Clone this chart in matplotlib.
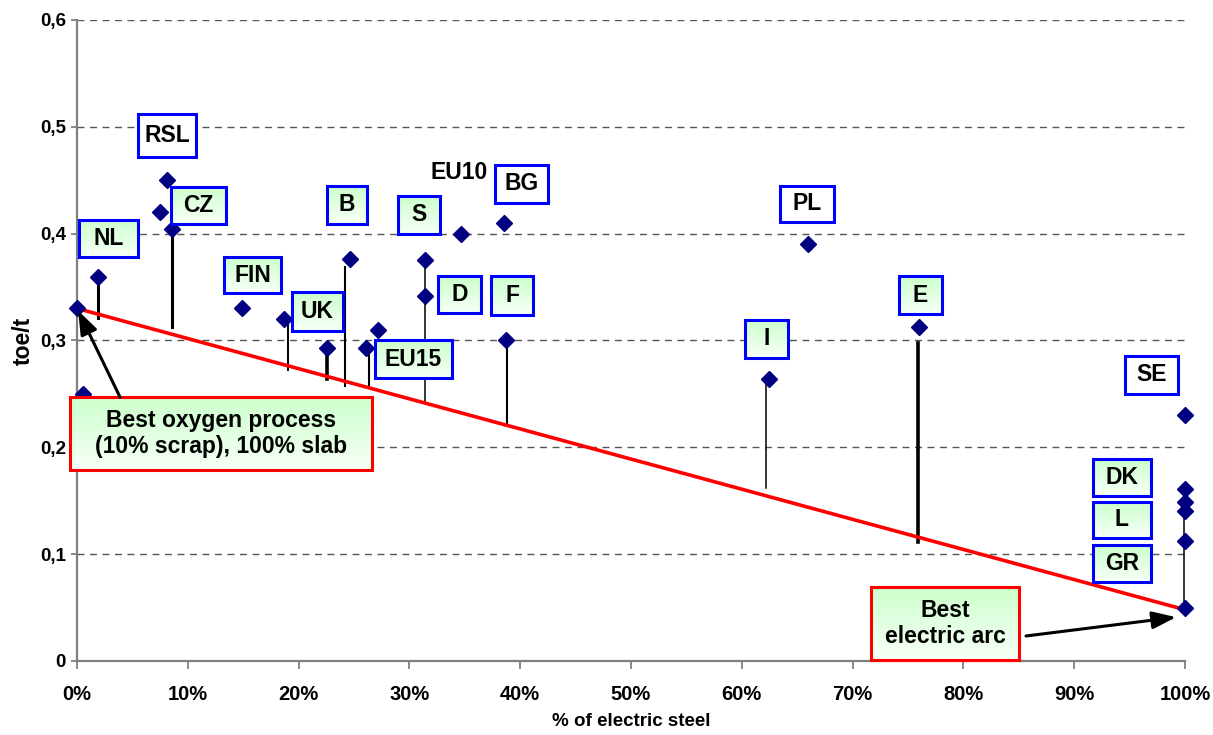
import matplotlib
matplotlib.use("Agg")
import matplotlib.pyplot as plt
import numpy as np
from matplotlib.patches import Rectangle
from matplotlib.ticker import FuncFormatter, MultipleLocator

plt.rcParams['font.family'] = ['Liberation Sans', 'DejaVu Sans']
plt.rcParams['font.weight'] = 'bold'

# country points: % of electric steel vs energy use (toe/t)
elec_share = [0, 0.5, 1.9, 7.5, 8.1, 8.6, 14.9, 18.7, 22.6, 24.6, 26.1, 27.2, 31.4,
              31.4, 34.7, 38.5, 38.7, 62.5, 66.0, 76.0, 100, 100, 100, 100, 100, 100]
energy = [0.330, 0.250, 0.359, 0.420, 0.450, 0.404, 0.330, 0.320, 0.293, 0.376, 0.293,
          0.310, 0.375, 0.342, 0.400, 0.410, 0.300, 0.264, 0.390, 0.313, 0.230, 0.161,
          0.149, 0.140, 0.112, 0.050]

# best practice line
best_x = [0, 100]
best_y = [0.330, 0.048]

# gap lines from country value down to best practice
drop_x = [1.9, 8.6, 19.0, 22.6, 24.2, 26.35, 31.4, 38.8, 62.2, 75.9, 99.9]
drop_top = [0.359, 0.404, 0.319, 0.294, 0.369, 0.293, 0.375, 0.300, 0.261, 0.298, 0.148]
drop_bottom = [0.321, 0.313, 0.272, 0.264, 0.257, 0.256, 0.242, 0.223, 0.162, 0.111, 0.050]
drop_lw = [2.2, 2.2, 1.4, 2.6, 1.5, 1.5, 1.1, 1.5, 1.1, 2.6, 1.1]

# country labels: text, box (x0, x1, y0, y1), green fill?
labels = [
    ('RSL', (5.5, 10.74, 0.472, 0.512), False),
    ('CZ', (8.48, 13.45, 0.409, 0.444), True),
    ('NL', (0.18, 5.5, 0.378, 0.413), True),
    ('FIN', (13.27, 18.41, 0.344, 0.378), True),
    ('B', (22.56, 26.17, 0.409, 0.445), True),
    ('UK', (19.4, 24.0, 0.309, 0.345), True),
    ('S', (28.97, 32.76, 0.400, 0.435), True),
    ('BG', (37.73, 42.51, 0.429, 0.464), False),
    ('D', (32.58, 36.46, 0.326, 0.360), True),
    ('F', (37.36, 41.16, 0.324, 0.360), True),
    ('EU15', (26.9, 33.84, 0.265, 0.300), True),
    ('PL', (63.45, 68.32, 0.411, 0.445), False),
    ('I', (60.29, 64.17, 0.284, 0.319), True),
    ('E', (74.19, 78.07, 0.325, 0.360), True),
    ('SE', (94.58, 99.37, 0.250, 0.2856), False),
    ('DK', (91.7, 96.93, 0.1545, 0.189), True),
    ('L', (91.7, 96.93, 0.115, 0.149), True),
    ('GR', (91.7, 96.93, 0.074, 0.1086), True),
]

notes = [
    ('Best oxygen process\n(10% scrap), 100% slab', (-0.63, 26.62, 0.179, 0.247)),
    ('Best\nelectric arc', (71.66, 85.02, 0.001, 0.069)),
]


def draw_box(ax, text, box, green, edge, lw, size):
    x0, x1, y0, y1 = box
    if green:
        grad = np.linspace(0, 1, 64).reshape(-1, 1)
        top = np.array([0.80, 1.0, 0.80])
        bot = np.array([0.97, 1.0, 0.97])
        img = top + (bot - top) * grad[..., None]
        im = ax.imshow(img, extent=(x0, x1, y0, y1), origin='upper',
                       aspect='auto', zorder=5, interpolation='bilinear')
        im.set_clip_on(False)
        face = 'none'
    else:
        face = 'white'
    ax.add_patch(Rectangle((x0, y0), x1 - x0, y1 - y0, facecolor=face,
                           edgecolor=edge, linewidth=lw, zorder=6, clip_on=False))
    ax.text((x0 + x1) / 2, (y0 + y1) / 2, text, ha='center', va='center',
            fontsize=size, fontweight='bold', zorder=7, linespacing=1.2)


fig = plt.figure(figsize=(12.13, 7.35), dpi=100)
ax = fig.add_axes([0.0635, 0.1007, 0.9134, 0.8721])

for y in np.arange(0.1, 0.61, 0.1):
    ax.axhline(y, color='#555555', linewidth=1.0, dashes=(5, 4), zorder=1)

ax.plot(best_x, best_y, color='red', linewidth=2.6, zorder=3)
for x, t, b, w in zip(drop_x, drop_top, drop_bottom, drop_lw):
    ax.plot([x, x], [b, t], color='black', linewidth=w, zorder=2)

ax.plot(elec_share, energy, linestyle='none', marker='D', markersize=8.5,
        color='#000080', zorder=4, clip_on=False)

for text, box, green in labels:
    draw_box(ax, text, box, green, '#0000ff', 2.2, 16.5)

ax.text(34.48, 0.457, 'EU10', ha='center', va='center', fontsize=16.5,
        fontweight='bold', zorder=7)

for text, box in notes:
    draw_box(ax, text, box, True, '#ff0000', 2.2, 16.5)

arrow = dict(arrowstyle='-|>,head_length=0.6,head_width=0.22', color='black',
             lw=2.2, mutation_scale=24, shrinkA=0, shrinkB=0)
ax.annotate('', xy=(0.1, 0.328), xytext=(3.88, 0.247), arrowprops=arrow, zorder=8)
ax.annotate('', xy=(99.2, 0.041), xytext=(85.65, 0.0234), arrowprops=arrow, zorder=8)

ax.set_xlim(0, 100)
ax.set_ylim(0, 0.6)
ax.xaxis.set_major_locator(MultipleLocator(10))
ax.yaxis.set_major_locator(MultipleLocator(0.1))
ax.xaxis.set_major_formatter(FuncFormatter(lambda v, p: f'{v:.0f}%'))
ax.yaxis.set_major_formatter(
    FuncFormatter(lambda v, p: '0' if abs(v) < 1e-9 else f'{v:.1f}'.replace('.', ',')))

for side in ['top', 'right']:
    ax.spines[side].set_visible(False)
for side in ['left', 'bottom']:
    ax.spines[side].set_color('#808080')
    ax.spines[side].set_linewidth(1.6)

ax.tick_params(axis='x', colors='#808080', labelcolor='black', length=6, width=1.3,
               labelsize=14.5, pad=11)
ax.tick_params(axis='y', colors='#808080', labelcolor='black', length=4, width=1.3,
               labelsize=13.5, pad=4)
for lbl in ax.get_xticklabels() + ax.get_yticklabels():
    lbl.set_fontweight('bold')

ax.set_xlabel('% of electric steel', fontsize=13.5, fontweight='bold', labelpad=7)
ax.set_ylabel('toe/t', fontsize=16.5, fontweight='bold', labelpad=4)

fig.savefig('out.png', dpi=100)
